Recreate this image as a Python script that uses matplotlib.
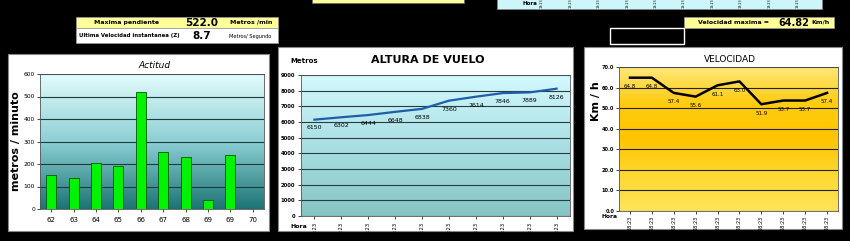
import numpy as np
import matplotlib.pyplot as plt
from matplotlib.patches import Rectangle
from matplotlib.colors import LinearSegmentedColormap

W, H = 850, 241

# datos
minutos = ['62', '63', '64', '65', '66', '67', '68', '69', '69', '70']
actitud = [150, 140, 205, 190, 522, 255, 232, 42, 240, 0]
horas = ['18:23'] * 10
altura = [6150, 6302, 6444, 6648, 6838, 7360, 7614, 7846, 7889, 8126]
velocidad = [64.8, 64.8, 57.4, 55.6, 61.1, 63.0, 51.9, 53.7, 53.7, 57.4]
max_pendiente = 522.0
ult_velocidad = 8.7
vel_maxima = 64.82

fig = plt.figure(figsize=(8.5, 2.41), dpi=100, facecolor='black')


def rect(x0, y0, x1, y1):
    return [x0 / W, 1 - y1 / H, (x1 - x0) / W, (y1 - y0) / H]


def box(x0, y0, x1, y1, fc, ec='none', lw=0.8):
    fig.patches.append(Rectangle((x0 / W, 1 - y1 / H), (x1 - x0) / W, (y1 - y0) / H,
                                 transform=fig.transFigure, facecolor=fc,
                                 edgecolor=ec, lw=lw, zorder=-1))


def txt(x, y, s, **kw):
    kw.setdefault('ha', 'center')
    kw.setdefault('va', 'center')
    return fig.text(x / W, 1 - y / H, s, **kw)


def gradient(ax, colors):
    cmap = LinearSegmentedColormap.from_list('g', colors)
    ax.imshow(np.linspace(0, 1, 256).reshape(-1, 1), cmap=cmap, aspect='auto',
              extent=[0, 1, 0, 1], transform=ax.transAxes, zorder=0)


# --- cuadros superiores ---
box(76, 17, 278, 28, '#ffff99', ec='#999999', lw=0.5)
box(76, 28, 278, 43, 'white', ec='#999999', lw=0.5)
txt(127, 22.5, 'Maxima pendiente', fontsize=4.5, fontweight='bold')
txt(202, 22.5, f'{max_pendiente:.1f}', fontsize=7.5, fontweight='bold')
txt(230, 22.5, 'Metros /min', fontsize=4.5, fontweight='bold', ha='left')
txt(79, 35.5, 'Ultima Velocidad instantanea (Z)', fontsize=3.9, fontweight='bold', ha='left')
txt(202, 36, f'{ult_velocidad:.1f}', fontsize=7.5, fontweight='bold')
txt(229, 36.5, 'Metros/ Segundo', fontsize=3.6, ha='left')

box(312, -2, 464, 2.5, '#ffff99', ec='#666666', lw=0.5)
box(497, -2, 822, 9, '#ccf6fa', ec='#888888', lw=0.5)
txt(530, 3.5, 'Hora', fontsize=4, fontweight='bold')
for i, h in enumerate(horas):
    txt(542 + i * 28.4, 8.5, h, fontsize=2.4, rotation=90, va='bottom')

box(684, 17, 834, 28, '#ffff99', ec='#999999', lw=0.5)
txt(733, 22.5, 'Velocidad maxima =', fontsize=4.5, fontweight='bold')
txt(794, 22.5, f'{vel_maxima:.2f}', fontsize=7, fontweight='bold')
txt(811, 22, 'Km/h', fontsize=4.5, fontweight='bold', ha='left')
box(610, 28, 684, 44, 'black', ec='white', lw=1)

# --- paneles ---
box(8, 54, 269, 231, 'white', ec='#888888')
box(278, 47, 573, 231, 'white', ec='#888888')
box(584, 47, 842, 229, 'white', ec='#888888')

# --- Actitud ---
ax1 = fig.add_axes(rect(40, 74, 264, 209))
gradient(ax1, ['#e4fcfc', '#8ccfd4', '#1c7474'])
ax1.set_axisbelow(True)
ax1.bar(range(len(actitud)), actitud, width=0.45, color='#00f400',
        edgecolor='#005a00', lw=0.6, zorder=3)
ax1.set_xlim(-0.5, len(actitud) - 0.5)
ax1.set_ylim(0, 600)
ax1.set_yticks(range(0, 601, 100))
ax1.set_xticks(range(len(minutos)), minutos)
ax1.yaxis.grid(True, color='#1d3c3c', lw=0.8)
ax1.tick_params(labelsize=4.3, length=2, width=0.5, pad=1.5)
ax1.tick_params(axis='x', labelsize=5, pad=4)
for s in ax1.spines.values():
    s.set_color('#555555')
    s.set_linewidth(0.6)
txt(155, 66, 'Actitud', fontsize=6.5, fontstyle='italic')
txt(16, 141, 'metros / minuto', fontsize=8, fontweight='bold', rotation=90)

# --- Altura de vuelo ---
ax2 = fig.add_axes(rect(301, 75, 570, 216))
gradient(ax2, ['#d4fafe', '#a8dfe4', '#86c4c4'])
ax2.set_axisbelow(True)
ax2.plot(range(len(altura)), altura, color='#1f5ea8', lw=1.6, zorder=3)
for i, v in enumerate(altura):
    ax2.annotate(f'{v}', (i, v), xytext=(0, -6), textcoords='offset points',
                 ha='center', va='center', fontsize=4.5, zorder=4)
ax2.set_xlim(-0.5, len(altura) - 0.5)
ax2.set_ylim(0, 9000)
ax2.set_yticks(range(0, 9001, 1000))
ax2.set_xticks(range(len(horas)), horas, rotation=90)
ax2.yaxis.grid(True, color='#2a3c3c', lw=0.8)
ax2.tick_params(labelsize=3.8, length=2, width=0.5, pad=2)
for lab in ax2.get_yticklabels():
    lab.set_fontweight('bold')
for s in ax2.spines.values():
    s.set_color('#555555')
    s.set_linewidth(0.6)
txt(290, 61, 'Metros', fontsize=5, fontweight='bold', ha='left')
txt(428, 60, 'ALTURA DE VUELO', fontsize=8, fontweight='bold')
txt(290, 227, 'Hora', fontsize=4.5, fontweight='bold', ha='left')

# --- Velocidad ---
ax3 = fig.add_axes(rect(619, 67, 838, 211))
gradient(ax3, ['#ffe77a', '#ffcc10', '#ffc400', '#ffd830', '#ffe45a'])
ax3.set_axisbelow(True)
ax3.plot(range(len(velocidad)), velocidad, color='black', lw=1.8, zorder=3)
for i, v in enumerate(velocidad):
    ax3.annotate(f'{v:.1f}', (i, v), xytext=(0, -6.5), textcoords='offset points',
                 ha='center', va='center', fontsize=4, zorder=4)
ax3.set_xlim(-0.5, len(velocidad) - 0.5)
ax3.set_ylim(0, 70)
ax3.set_yticks(range(0, 71, 10))
ax3.set_yticklabels([f'{t:.1f}' for t in range(0, 71, 10)])
ax3.set_xticks(range(len(horas)), horas, rotation=90)
ax3.yaxis.grid(True, color='#222222', lw=0.8)
ax3.tick_params(labelsize=3.6, length=2, width=0.5, pad=1.5)
for lab in ax3.get_yticklabels():
    lab.set_fontweight('bold')
for s in ax3.spines.values():
    s.set_color('#555555')
    s.set_linewidth(0.6)
txt(730, 59, 'VELOCIDAD', fontsize=6.5)
txt(596, 101, 'Km / h', fontsize=8, fontweight='bold', rotation=90)
txt(602, 216, 'Hora', fontsize=4.3, fontweight='bold', ha='left')

fig.savefig('out.png', dpi=100, facecolor='black')
